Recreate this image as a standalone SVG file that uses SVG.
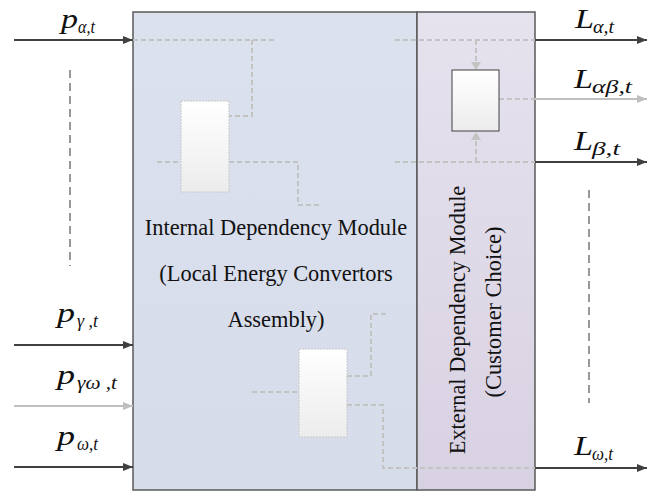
<svg xmlns="http://www.w3.org/2000/svg" width="649" height="492" viewBox="0 0 649 492">
  <defs>
    <linearGradient id="gInternal" x1="0" y1="0" x2="0" y2="1">
      <stop offset="0" stop-color="#dce1ee"/>
      <stop offset="1" stop-color="#d6dcea"/>
    </linearGradient>
    <linearGradient id="gExternal" x1="0" y1="0" x2="0" y2="1">
      <stop offset="0" stop-color="#e6e2ee"/>
      <stop offset="1" stop-color="#d8d1e2"/>
    </linearGradient>
    <linearGradient id="gUnit" x1="0" y1="0" x2="0" y2="1">
      <stop offset="0" stop-color="#ffffff"/>
      <stop offset="1" stop-color="#ececec"/>
    </linearGradient>
    <marker id="headDark" viewBox="0 0 10 8" refX="10" refY="4" markerWidth="10" markerHeight="8" markerUnits="userSpaceOnUse" orient="auto">
      <path d="M0,0 L10,4 L0,8 Z" fill="#404040"/>
    </marker>
    <marker id="headLight" viewBox="0 0 10 8" refX="10" refY="4" markerWidth="10" markerHeight="8" markerUnits="userSpaceOnUse" orient="auto">
      <path d="M0,0 L10,4 L0,8 Z" fill="#bfbfbf"/>
    </marker>
  </defs>
  <style>
    .module { stroke: #595959; stroke-width: 1.5; }
    .caption { font-family: "Liberation Serif", "Times New Roman", serif; font-size: 22.4px; fill: #111; }
    .sym { font-family: "Liberation Serif", "Times New Roman", serif; font-style: italic; font-size: 28px; fill: #111; }
    .sub { font-family: "Liberation Serif", "Times New Roman", serif; font-style: italic; font-size: 18px; fill: #111; }
    .flow { fill: none; stroke: #404040; stroke-width: 2; }
    .flowLight { fill: none; stroke: #bfbfbf; stroke-width: 2; }
    .link { fill: none; stroke: #c3c3c3; stroke-width: 2; stroke-dasharray: 5 3; }
    .ellipsis { fill: none; stroke: #333; stroke-width: 1; stroke-dasharray: 8 5; }
    .unitSoft { fill: url(#gUnit); stroke: #c8c8c8; stroke-width: 1; stroke-dasharray: 2 1; }
    .unitHard { fill: url(#gUnit); stroke: #404040; stroke-width: 1; }
  </style>

  <!-- Internal dependency module -->
  <g id="internal-module">
    <rect class="module" x="133" y="12" width="284" height="478" fill="url(#gInternal)"/>
    <text class="caption" x="276" y="235" text-anchor="middle">Internal Dependency Module</text>
    <text class="caption" x="276" y="281" text-anchor="middle">(Local Energy Convertors</text>
    <text class="caption" x="276" y="327" text-anchor="middle">Assembly)</text>
  </g>

  <!-- External dependency module -->
  <g id="external-module">
    <rect class="module" x="417" y="12" width="118" height="478" fill="url(#gExternal)"/>
    <text class="caption" transform="translate(465,320) rotate(-90)" text-anchor="middle">External Dependency Module</text>
    <text class="caption" transform="translate(501,312) rotate(-90)" text-anchor="middle">(Customer Choice)</text>
  </g>

  <!-- Connectors -->
  <g id="connectors">
    <!-- internal paths -->
    <path class="link" d="M133,40 H274"/>
    <path class="link" d="M252,40 V116 H229"/>
    <path class="link" d="M157,162 H181"/>
    <path class="link" d="M229,162 H298 V205 H320"/>
    <path class="link" d="M252,392 H299"/>
    <path class="link" d="M347,376 H371 V314 H389"/>
    <path class="link" d="M347,405 H383 V468 H535"/>
    <!-- external paths -->
    <path class="link" d="M395,40 H535"/>
    <path class="link" d="M476,40 V62"/>
    <path d="M471,62 L476,70 L481,62 Z" fill="#c3c3c3"/>
    <path class="link" d="M499,99 H535"/>
    <path class="link" d="M395,162 H535"/>
    <path class="link" d="M476,162 V140"/>
    <path d="M471,140 L476,132 L481,140 Z" fill="#c3c3c3"/>

    <!-- inputs -->
    <path class="flow" d="M14,40 H133" marker-end="url(#headDark)"/>
    <path class="flow" d="M14,345 H133" marker-end="url(#headDark)"/>
    <path class="flowLight" d="M14,406 H133" marker-end="url(#headLight)"/>
    <path class="flow" d="M14,467 H133" marker-end="url(#headDark)"/>

    <!-- outputs -->
    <path class="flow" d="M535,40 H647" marker-end="url(#headDark)"/>
    <path class="flowLight" d="M535,99 H647" marker-end="url(#headLight)"/>
    <path class="flow" d="M535,162 H647" marker-end="url(#headDark)"/>
    <path class="flow" d="M535,468 H647" marker-end="url(#headDark)"/>

    <!-- ellipses for omitted carriers -->
    <path class="ellipsis" d="M70,70 V266"/>
    <path class="ellipsis" d="M589,190 V403"/>
  </g>

  <!-- Converter units -->
  <g id="converter-top">
    <rect class="unitSoft" x="181" y="101" width="48" height="91"/>
  </g>
  <g id="converter-bottom">
    <rect class="unitSoft" x="299" y="349" width="48" height="88"/>
  </g>
  <g id="choice-unit">
    <rect class="unitHard" x="452" y="70" width="47" height="61"/>
  </g>

  <!-- Input labels -->
  <g id="label-p-alpha">
    <text class="sym" x="61" y="28" textLength="17" lengthAdjust="spacingAndGlyphs">p</text>
    <text class="sub" x="78" y="33" textLength="17" lengthAdjust="spacingAndGlyphs">α,t</text>
  </g>
  <g id="label-p-gamma">
    <text class="sym" x="57" y="322" textLength="18" lengthAdjust="spacingAndGlyphs">p</text>
    <text class="sub" x="77" y="327" textLength="21" lengthAdjust="spacingAndGlyphs">γ ,t</text>
  </g>
  <g id="label-p-gammaomega">
    <text class="sym" x="57" y="384" textLength="18" lengthAdjust="spacingAndGlyphs">p</text>
    <text class="sub" x="77" y="389" textLength="40" lengthAdjust="spacingAndGlyphs">γω ,t</text>
  </g>
  <g id="label-p-omega">
    <text class="sym" x="57" y="445" textLength="18" lengthAdjust="spacingAndGlyphs">p</text>
    <text class="sub" x="77" y="450" textLength="21" lengthAdjust="spacingAndGlyphs">ω,t</text>
  </g>

  <!-- Output labels -->
  <g id="label-L-alpha">
    <text class="sym" x="575" y="28" textLength="19" lengthAdjust="spacingAndGlyphs">L</text>
    <text class="sub" x="593" y="33" textLength="21" lengthAdjust="spacingAndGlyphs">α,t</text>
  </g>
  <g id="label-L-alphabeta">
    <text class="sym" x="574" y="88" textLength="19" lengthAdjust="spacingAndGlyphs">L</text>
    <text class="sub" x="592" y="93" textLength="40" lengthAdjust="spacingAndGlyphs">αβ,t</text>
  </g>
  <g id="label-L-beta">
    <text class="sym" x="574" y="150" textLength="19" lengthAdjust="spacingAndGlyphs">L</text>
    <text class="sub" x="592" y="155" textLength="28" lengthAdjust="spacingAndGlyphs">β,t</text>
  </g>
  <g id="label-L-omega">
    <text class="sym" x="574" y="455" textLength="19" lengthAdjust="spacingAndGlyphs">L</text>
    <text class="sub" x="592" y="460" textLength="21" lengthAdjust="spacingAndGlyphs">ω,t</text>
  </g>
</svg>
